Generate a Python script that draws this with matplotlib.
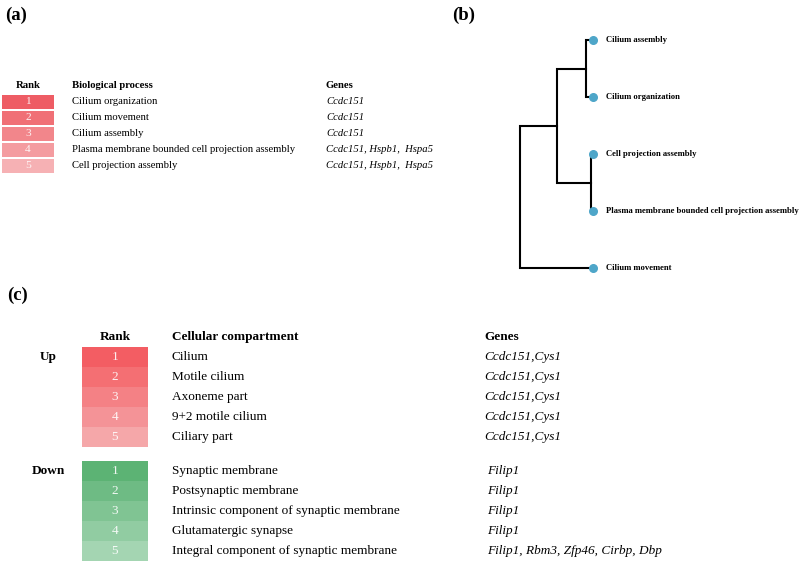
import numpy as np
import matplotlib.pyplot as plt

# panel (a): biological process table
bp_rank = [1, 2, 3, 4, 5]
bp_terms = ['Cilium organization', 'Cilium movement', 'Cilium assembly',
            'Plasma membrane bounded cell projection assembly',
            'Cell projection assembly']
bp_genes = ['Ccdc151', 'Ccdc151', 'Ccdc151',
            'Ccdc151, Hspb1,  Hspa5', 'Ccdc151, Hspb1,  Hspa5']
bp_colors = ['#ee5c64', '#f07076', '#f2868b', '#f49ca0', '#f6b1b4']

# panel (b): dendrogram of the five processes
leaves = ['Cilium assembly', 'Cilium organization', 'Cell projection assembly',
          'Plasma membrane bounded cell projection assembly', 'Cilium movement']
# merges: (left child, right child, height); children < 5 are leaves
merges = [(0, 1, 0.7), (2, 3, 0.2), (5, 6, 3.6), (7, 4, 7.3)]

# panel (c): cellular compartment table
cc_rank = [1, 2, 3, 4, 5]
cc_up_terms = ['Cilium', 'Motile cilium', 'Axoneme part', '9+2 motile cilium',
               'Ciliary part']
cc_up_genes = ['Ccdc151,Cys1'] * 5
cc_up_colors = ['#f35d63', '#f46f73', '#f48185', '#f49397', '#f5a7a9']
cc_down_terms = ['Synaptic membrane', 'Postsynaptic membrane',
                 'Intrinsic component of synaptic membrane',
                 'Glutamatergic synapse',
                 'Integral component of synaptic membrane']
cc_down_genes = ['Filip1', 'Filip1', 'Filip1', 'Filip1',
                 'Filip1, Rbm3, Zfp46, Cirbp, Dbp']
cc_down_colors = ['#5cb374', '#6ebb84', '#80c493', '#91cca2', '#a4d5b2']

plt.rcParams['font.family'] = ['Liberation Serif', 'DejaVu Serif']

fig = plt.figure(figsize=(8, 5.63), dpi=100)
ax = fig.add_axes([0, 0, 1, 1])
ax.set_xlim(0, 800)
ax.set_ylim(563, 0)
ax.axis('off')

fs_a = 7.7
fs_c = 9.5

# ---- (a)
ax.text(5, 15, '(a)', fontsize=13.5, fontweight='bold', va='center')
y_a = 102 + 16 * np.arange(len(bp_rank))
ax.barh(y_a, 52, left=2, height=14, color=bp_colors)
ax.text(28, 86, 'Rank', fontsize=fs_a, fontweight='bold', ha='center', va='center')
ax.text(72, 86, 'Biological process', fontsize=fs_a, fontweight='bold', va='center')
ax.text(326, 86, 'Genes', fontsize=fs_a, fontweight='bold', va='center')
for y, r, t, g in zip(y_a, bp_rank, bp_terms, bp_genes):
    ax.text(28, y, str(r), fontsize=fs_a + 0.5, color='white', alpha=0.9,
            ha='center', va='center')
    ax.text(72, y, t, fontsize=fs_a, va='center')
    ax.text(326, y, g, fontsize=fs_a, style='italic', va='center')

# ---- (b)
ax.text(452, 15, '(b)', fontsize=13.5, fontweight='bold', va='center')
axd = fig.add_axes([500 / 800, 1 - 290 / 563, 100 / 800, 270 / 563])
axd.set_xlim(9.3, -0.7)
axd.set_ylim(4.386, -0.351)
axd.axis('off')
pos = {i: (0.0, float(i)) for i in range(len(leaves))}
for k, (a, b, h) in enumerate(merges):
    xa, ya = pos[a]
    xb, yb = pos[b]
    axd.plot([xa, h, h, xb], [ya, ya, yb, yb], color='black', lw=1.5,
             solid_joinstyle='miter', clip_on=False)
    pos[len(leaves) + k] = (h, (ya + yb) / 2)
axd.scatter(np.zeros(len(leaves)), np.arange(len(leaves)), s=30,
            color='#4ea6c9', zorder=3, clip_on=False)
for i, name in enumerate(leaves):
    axd.annotate(name, (0, i), xytext=(9.5, 0), textcoords='offset points',
                 fontsize=6.2, fontweight='bold', va='center',
                 annotation_clip=False)

# ---- (c)
ax.text(7, 295, '(c)', fontsize=13.5, fontweight='bold', va='center')
ax.text(115, 337, 'Rank', fontsize=fs_c, fontweight='bold', ha='center', va='center')
ax.text(172, 337, 'Cellular compartment', fontsize=fs_c, fontweight='bold', va='center')
ax.text(484, 337, 'Genes', fontsize=fs_c, fontweight='bold', va='center')

groups = [('Up', 357, cc_up_terms, cc_up_genes, cc_up_colors, 484),
          ('Down', 471, cc_down_terms, cc_down_genes, cc_down_colors, 487)]
for label, y0, terms, genes, colors, gx in groups:
    ys = y0 + 20 * np.arange(len(cc_rank))
    ax.barh(ys, 66, left=82, height=20.5, color=colors)
    ax.text(48, y0, label, fontsize=fs_c, fontweight='bold', ha='center', va='center')
    for y, r, t, g in zip(ys, cc_rank, terms, genes):
        ax.text(115, y, str(r), fontsize=fs_c, color='white', alpha=0.9,
                ha='center', va='center')
        ax.text(172, y, t, fontsize=fs_c, va='center')
        ax.text(gx, y, g, fontsize=fs_c, style='italic', va='center')

fig.savefig('out.png', dpi=100)
